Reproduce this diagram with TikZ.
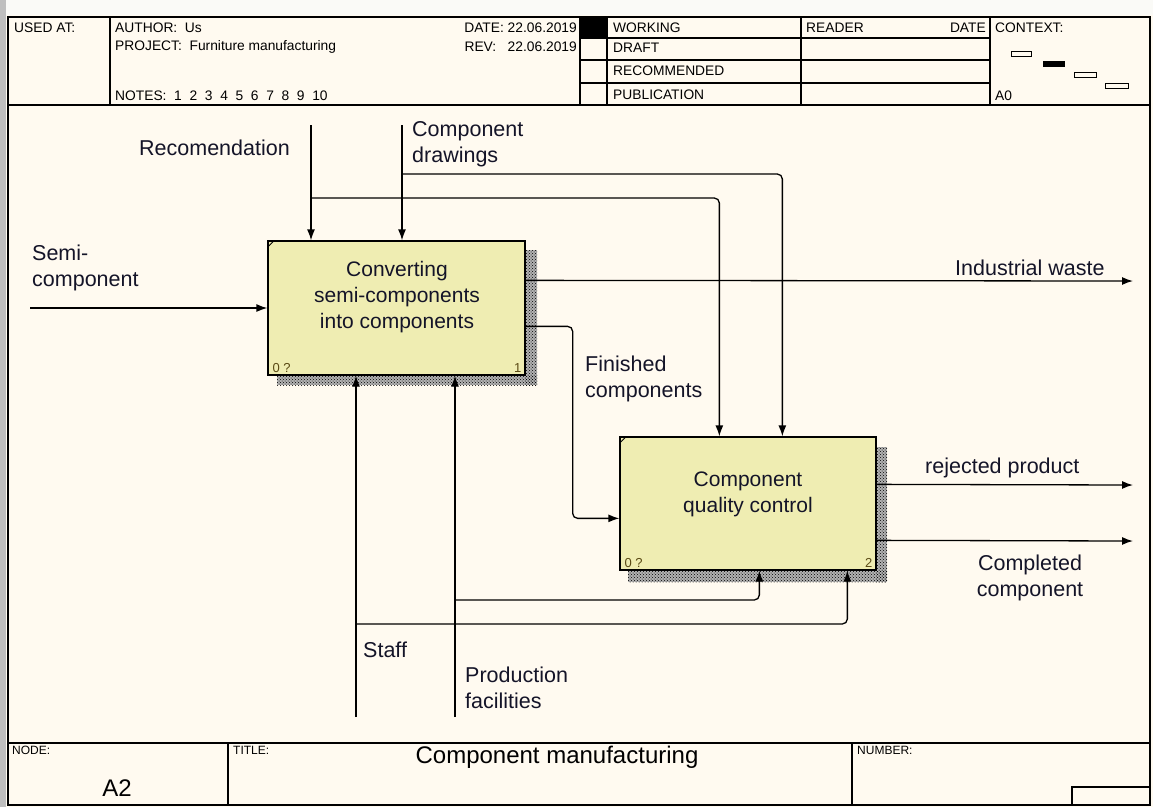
\documentclass[tikz,border=0pt]{standalone}
\usepackage{fontspec}
\setmainfont{Liberation Sans}
\usetikzlibrary{arrows.meta,patterns,calc}
\definecolor{bg}{RGB}{255,250,240}
\definecolor{topband}{RGB}{250,250,247}
\definecolor{boxfill}{RGB}{239,237,178}
\definecolor{numcol}{RGB}{90,74,20}
\definecolor{lblcol}{RGB}{20,20,40}
\begin{document}
\begin{tikzpicture}[x=1pt,y=-1pt,
  frame/.style={line width=1.6pt},
  grid/.style={line width=1.1pt},
  conn/.style={line width=1.3pt, rounded corners=5pt},
  arr/.style={conn, -{Latex[length=11pt,width=8pt]}},
  lbl/.style={font=\fontsize{21.5}{26}\selectfont, text=lblcol, inner sep=0pt, align=left, anchor=west},
  boxtxt/.style={font=\fontsize{21}{26}\selectfont, text=lblcol, align=center, inner sep=0pt},
  hdr/.style={font=\fontsize{13.8}{15}\selectfont, inner sep=0pt, anchor=west},
  ftr/.style={font=\fontsize{12}{13}\selectfont, inner sep=0pt, anchor=west},
  actbox/.style={draw, line width=1.3pt, fill=boxfill, inner sep=0pt},
  shadowbase/.style={fill=black!30},
  shadow/.style={pattern=crosshatch dots, pattern color=black},
  num/.style={font=\fontsize{13}{14}\selectfont, text=numcol, inner sep=0pt}
]
\useasboundingbox (0,0) rectangle (1153,807);
% background
\fill[bg] (0,0) rectangle (1153,807);
\fill[topband] (0,0) rectangle (1153,15);
\fill[black!25] (0,0) rectangle (6,807);

% ---------- header ----------
\fill (580,17) rectangle (607,38);
\draw[grid] (110,17) -- (110,105);
\draw[grid] (580,17) -- (580,105);
\draw[grid] (607,17) -- (607,105);
\draw[grid] (801,17) -- (801,105);
\draw[grid] (990,17) -- (990,105);
\draw[grid] (580,38) -- (990,38);
\draw[grid] (580,60) -- (990,60);
\draw[grid] (580,83) -- (990,83);
\draw[frame] (8,105) -- (1150,105);

\node[hdr] (usedat) at (14,28) {USED AT:};
\node[hdr] (author) at (115,28) {AUTHOR:\ \ Us};
\node[hdr] (project) at (115,47) {PROJECT:\ \ Furniture manufacturing};
\node[hdr] (notes) at (115,96) {NOTES:\ \ 1\ \ 2\ \ 3\ \ 4\ \ 5\ \ 6\ \ 7\ \ 8\ \ 9\ \ 10};
\node[hdr, anchor=east] (date) at (577,28) {DATE: 22.06.2019};
\node[hdr, anchor=east] (rev) at (577,47) {REV:\ \ \ 22.06.2019};
\node[hdr] (working) at (613,28) {WORKING};
\node[hdr] (draft) at (613,48) {DRAFT};
\node[hdr] (recom) at (613,71) {RECOMMENDED};
\node[hdr] (publ) at (613,95) {PUBLICATION};
\node[hdr] (reader) at (806,28) {READER};
\node[hdr, anchor=east] (rdate) at (986,28) {DATE};
\node[hdr] (context) at (995,28) {CONTEXT:};
\node[hdr] (a0) at (995,96) {A0};
\draw[line width=1pt] (1011,51) rectangle (1031,56);
\fill (1043,61) rectangle (1065,67);
\draw[line width=1pt] (1074,72) rectangle (1096,77);
\draw[line width=1pt] (1105,83) rectangle (1128,88);

% ---------- footer ----------
\draw[frame] (8,743) -- (1150,743);
\draw[grid] (228,743) -- (228,805);
\draw[grid] (852,743) -- (852,805);
\draw[grid] (1072,805) -- (1072,787) -- (1150,787);
\node[ftr] (nodelbl) at (12,750) {NODE:};
\node[ftr] (titlelbl) at (233,750) {TITLE:};
\node[ftr] (numlbl) at (857,750) {NUMBER:};
\node[font=\fontsize{24}{26}\selectfont, inner sep=0pt] (a2) at (117,788) {A2};
\node[font=\fontsize{24}{26}\selectfont, inner sep=0pt] (title) at (557,757) {Component manufacturing};

% outer frame
\draw[frame] (8,17) rectangle (1150,805);

% ---------- activity boxes ----------
\fill[shadowbase] (525,250) rectangle (537,385);
\fill[shadowbase] (277,375) rectangle (537,385);
\fill[shadowbase] (876,447) rectangle (887,582);
\fill[shadowbase] (628,570) rectangle (887,582);
\fill[shadow] (525,250) rectangle (537,385);
\fill[shadow] (277,375) rectangle (537,385);
\fill[shadow] (876,447) rectangle (887,582);
\fill[shadow] (628,570) rectangle (887,582);

\node[actbox, minimum width=257pt, minimum height=134pt] (b1) at (396.5,308) {};
\node[actbox, minimum width=256pt, minimum height=133pt] (b2) at (748,503.5) {};
\draw[line width=0.8pt] ($(b1.north west)+(0,7)$) -- ($(b1.north west)+(7,0)$);
\draw[line width=0.8pt] ($(b2.north west)+(0,7)$) -- ($(b2.north west)+(7,0)$);
\node[boxtxt] (b1t) at (397,297) {Converting\\semi-components\\into components};
\node[boxtxt] (b2t) at (748,494) {Component\\quality control};
\node[num, anchor=south west] (b1q) at ($(b1.south west)+(5,-3)$) {0 ?};
\node[num, anchor=south east] (b1n) at ($(b1.south east)+(-4,-3)$) {1};
\node[num, anchor=south west] (b2q) at ($(b2.south west)+(5,-3)$) {0 ?};
\node[num, anchor=south east] (b2n) at ($(b2.south east)+(-4,-3)$) {2};

% ---------- connector end points ----------
\coordinate (sc) at (30,308);
\coordinate (rt) at (311,125);
\coordinate (rj) at (311,198);
\coordinate (cd) at (402,125);
\coordinate (cj) at (402,174);
\coordinate (iw) at (1133,281);
\coordinate (rp) at (1133,485);
\coordinate (cc) at (1133,541);
\coordinate (st) at (356,717);
\coordinate (sj) at (356,624);
\coordinate (pf) at (455,717);
\coordinate (pj) at (455,600);

% inputs
\draw[arr] (sc) -- (sc -| b1.west);
% controls
\draw[arr] (rt) -- (rt |- b1.north);
\draw[arr] (cd) -- (cd |- b1.north);
\draw[arr] (rj) -| ($(b2.north west)+(100,0)$);
\draw[arr] (cj) -| ($(b2.north west)+(163,0)$);
% outputs
\draw[arr] ($(b1.north east)+(0,40)$) -- (iw);
\draw[arr] ($(b1.north east)+(0,86)$) -- ++(47,0) |- ($(b2.north west)+(0,82)$);
\draw[arr] ($(b2.north east)+(0,48)$) -- (rp);
\draw[arr] ($(b2.north east)+(0,104)$) -- (cc);
% mechanisms
\draw[arr] (st) -- (st |- b1.south);
\draw[arr] (pf) -- (pf |- b1.south);
\draw[arr] (sj) -| ($(b2.south west)+(228,0)$);
\draw[arr] (pj) -| ($(b2.south west)+(140,0)$);

% ---------- labels ----------
\node[lbl] (lrec) at (139,148) {Recomendation};
\node[lbl] (lcd) at (412,144) {Component\\drawings};
\node[lbl] (lsc) at (32,268) {Semi-\\component};
\node[lbl] (liw) at (955,268) {Industrial waste};
\node[lbl] (lfc) at (585,379) {Finished\\components};
\node[lbl] (lrp) at (925,468) {rejected product};
\node[lbl, anchor=center, align=center] (lcc) at (1030,578) {Completed\\component};
\node[lbl] (lst) at (363,650) {Staff};
\node[lbl] (lpf) at (465,688) {Production\\facilities};
\end{tikzpicture}
\end{document}
